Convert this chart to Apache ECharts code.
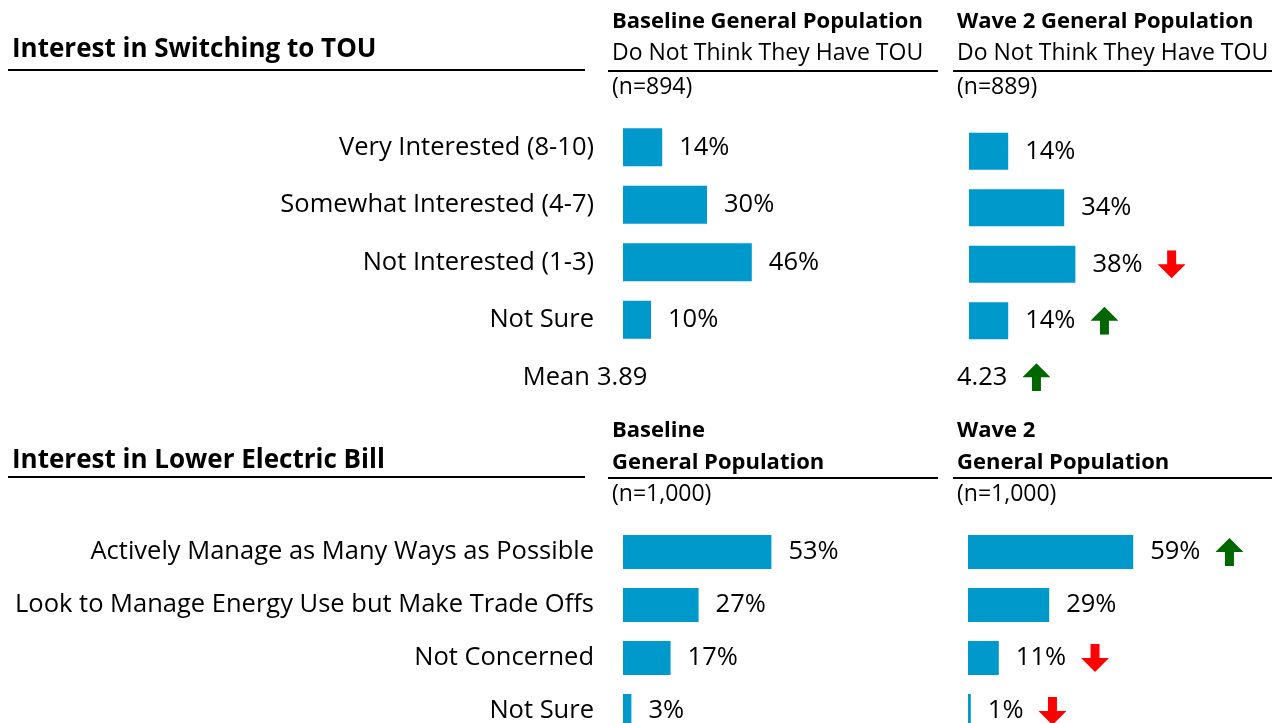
<!DOCTYPE html>
<html><head><meta charset="utf-8">
<script src="https://cdn.jsdelivr.net/npm/echarts@6/dist/echarts.min.js"></script>
<style>html,body{margin:0;padding:0;background:#fff}#c{width:1272px;height:723px}</style>
</head><body><div id="c"></div><script>
const FONT = "'Open Sans', sans-serif";

const touCategories = ['Very Interested (8-10)', 'Somewhat Interested (4-7)', 'Not Interested (1-3)', 'Not Sure', 'Mean'];
const touBaseline = [14, 30, 46, 10];
const touWave2 = [14, 34, 38, 14];
const touMeans = [3.89, 4.23];
const touWave2Change = ['', '', 'down', 'up'];
const touMeanChange = ['', 'up'];
const touBaselineChange = ['', '', '', ''];

const billCategories = ['Actively Manage as Many Ways as Possible', 'Look to Manage Energy Use but Make Trade Offs', 'Not Concerned', 'Not Sure'];
const billBaseline = [53, 27, 17, 3];
const billWave2 = [59, 29, 11, 1];
const billWave2Change = ['up', '', 'down', 'down'];
const billBaselineChange = ['', '', '', ''];

const headers = {
  touTitle: 'Interest in Switching to TOU',
  billTitle: 'Interest in Lower Electric Bill',
  touBase: ['Baseline General Population', 'Do Not Think They Have TOU', '(n=894)'],
  touWave: ['Wave 2 General Population', 'Do Not Think They Have TOU', '(n=889)'],
  billBase: ['Baseline', 'General Population', '(n=1,000)'],
  billWave: ['Wave 2', 'General Population', '(n=1,000)']
};

const BAR = '#0099CC';
const UP = '#006600', DOWN = '#FF0000';
function svgArrow(dir, color) {
  const d = dir === 'down'
    ? 'M9.5 0 H18.5 V14 H28 L14 28 L0 14 H9.5 Z'
    : 'M9.5 28 H18.5 V14 H28 L14 0 L0 14 H9.5 Z';
  return 'data:image/svg+xml;charset=utf-8,' + encodeURIComponent(
    '<svg xmlns="http://www.w3.org/2000/svg" width="28" height="28" viewBox="0 0 28 28"><path d="' + d + '" fill="' + color + '"/></svg>');
}
const LFS = 25.5;
const rich = {
  v: { fontFamily: FONT, fontSize: LFS, color: '#000' },
  up: { width: 28, height: 28, backgroundColor: { image: svgArrow('up', UP) } },
  down: { width: 28, height: 28, backgroundColor: { image: svgArrow('down', DOWN) } },
  gap: { width: 15, height: 28 }
};
function arrowText(c) { return c === 'up' ? '{gap|}{up|}' : (c === 'down' ? '{gap|}{down|}' : ''); }

const grids = [
  { left: 623, top: 118.5, width: 280, height: 287.5 },
  { left: 969, top: 123, width: 280, height: 282.5 },
  { left: 623, top: 525.5, width: 280, height: 212 },
  { left: 968, top: 525.5, width: 280, height: 212 }
].map(g => Object.assign({ outerBoundsMode: 'none', containLabel: false }, g));
const xAxes = grids.map((g, i) => ({ gridIndex: i, type: 'value', min: 0, max: 100, show: false }));
const yAxes = [
  { cats: touCategories, show: true },
  { cats: touCategories, show: false },
  { cats: billCategories, show: true },
  { cats: billCategories, show: false }
].map((a, i) => ({
  gridIndex: i, type: 'category', inverse: true, data: a.cats,
  axisLine: { show: false }, axisTick: { show: false }, splitLine: { show: false },
  axisLabel: {
    show: a.show, margin: 29, fontFamily: FONT, fontSize: LFS, color: '#000',
    formatter: v => v === 'Mean' ? 'Mean\u2009' : v
  }
}));

function barSeries(i, values, changes, bw) {
  return {
    type: 'bar', xAxisIndex: i, yAxisIndex: i, data: values, barWidth: bw,
    itemStyle: { color: BAR }, silent: true,
    label: {
      show: true, position: 'right', distance: 17, rich: rich, color: '#000',
      formatter: p => '{v|' + p.value + '%}' + arrowText(changes[p.dataIndex])
    }
  };
}
function meanSeries(i, k, offset) {
  return {
    type: 'scatter', xAxisIndex: i, yAxisIndex: i, symbolSize: 0, silent: true,
    itemStyle: { opacity: 1, color: '#000' },
    data: [[0, touCategories.length - 1]],
    label: {
      show: true, position: 'right', distance: 0, offset: [offset, 0], rich: rich, color: '#000',
      formatter: () => '{v|' + touMeans[k].toFixed(2) + '}' + arrowText(touMeanChange[k])
    }
  };
}

function line(x1, x2, y) {
  return { type: 'line', shape: { x1: x1, y1: y, x2: x2, y2: y }, style: { stroke: '#000', lineWidth: 2 } };
}
function gtext(x, y, s, bold, size) {
  return { type: 'text', x: x, y: y, style: { text: s, x: 0, y: 0, fontFamily: FONT, fontSize: size, fontWeight: bold ? 'bold' : 'normal', fill: '#000', verticalAlign: 'middle', align: 'left' } };
}
const HB = 22, HR = 23, TFS = 26;
const graphics = [
  gtext(12, 50, headers.touTitle, true, TFS),
  line(8, 585, 70),
  gtext(612, 22, headers.touBase[0], true, HB),
  gtext(612, 53, headers.touBase[1], false, HR),
  line(608, 938, 71),
  gtext(612, 87, headers.touBase[2], false, HR),
  gtext(957, 22, headers.touWave[0], true, HB),
  gtext(957, 53, headers.touWave[1], false, HR),
  line(953, 1272, 71),
  gtext(957, 87, headers.touWave[2], false, HR),

  gtext(12, 461, headers.billTitle, true, TFS),
  line(8, 585, 477),
  gtext(612, 431, headers.billBase[0], true, HB),
  gtext(612, 463, headers.billBase[1], true, HB),
  line(608, 938, 478),
  gtext(612, 494, headers.billBase[2], false, HR),
  gtext(957, 431, headers.billWave[0], true, HB),
  gtext(957, 463, headers.billWave[1], true, HB),
  line(953, 1272, 478),
  gtext(957, 494, headers.billWave[2], false, HR)
];

const chart = echarts.init(document.getElementById('c'), null, { renderer: 'canvas' });
chart.setOption({
  animation: false,
  backgroundColor: '#fff',
  grid: grids,
  xAxis: xAxes,
  yAxis: yAxes,
  graphic: { elements: graphics },
  series: [
    barSeries(0, touBaseline, touBaselineChange, 38),
    barSeries(1, touWave2, touWave2Change, 37),
    barSeries(2, billBaseline, billBaselineChange, 34),
    barSeries(3, billWave2, billWave2Change, 34),
    meanSeries(0, 0, -26),
    meanSeries(1, 1, -12)
  ]
});
</script></body></html>
